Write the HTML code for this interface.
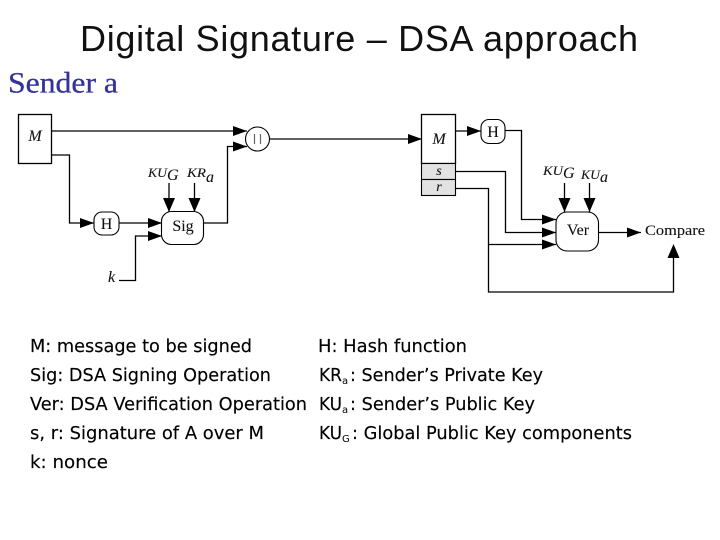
<!DOCTYPE html>
<html>
<head>
<meta charset="utf-8">
<style>
html,body{margin:0;padding:0;background:#fff;width:720px;height:540px;overflow:hidden}
svg{display:block}
.t{font-family:"DejaVu Sans","Liberation Sans",sans-serif;font-size:18px;fill:#000;stroke:#000;stroke-width:.15}
.s{font-family:"Liberation Serif",serif;fill:#111;stroke:#111;stroke-width:.1}
.i{font-family:"Liberation Serif",serif;font-style:italic;fill:#111;stroke:#111;stroke-width:.1}
path.l{fill:none;stroke:#000;stroke-width:1.3}
</style>
</head>
<body>
<svg width="720" height="540" viewBox="0 0 720 540" xmlns="http://www.w3.org/2000/svg">
<defs>
<path id="ar" d="M0 0L-14 -5V5Z" fill="#000"/>
<path id="ad" d="M0 0L-6 -14H6Z" fill="#000"/>
<path id="au" d="M0 0L-6 14H6Z" fill="#000"/>
</defs>

<text x="80" y="51" textLength="558" lengthAdjust="spacing" style="font-family:'Liberation Sans',sans-serif;font-size:36px;fill:#111">Digital Signature – DSA approach</text>
<text x="8" y="92.500" textLength="110" lengthAdjust="spacingAndGlyphs" style="font-family:'Liberation Serif',serif;font-size:30px;fill:#333399;stroke:#333399;stroke-width:.3">Sender a</text>

<!-- left -->
<rect x="18.500" y="114.500" width="33" height="49" fill="#fff" stroke="#000" stroke-width="1.300"/>
<text x="35" y="141" text-anchor="middle" class="i" style="font-size:16px">M</text>
<path class="l" d="M52 131H247"/><use href="#ar" x="247" y="131"/>
<circle cx="257.500" cy="139" r="12" fill="#fff" stroke="#000" stroke-width="1.100"/>
<path d="M254.500 134V144M260.500 134V144" stroke="#666" stroke-width="1.200" fill="none"/>
<path class="l" d="M52 155H69.500V223H94"/><use href="#ar" x="94" y="223"/>
<rect x="94" y="212" width="25" height="23" rx="8" fill="#fff" stroke="#000" stroke-width="1.100"/>
<text x="106.500" y="229" text-anchor="middle" class="s" style="font-size:16px">H</text>
<path class="l" d="M119 223H162"/><use href="#ar" x="162" y="223"/>
<path class="l" d="M119 280.500H135.500V236H162"/><use href="#ar" x="162" y="236"/>
<text x="108" y="282" class="i" style="font-size:16px">k</text>
<rect x="161.500" y="211.500" width="42" height="33" rx="10" fill="#fff" stroke="#000" stroke-width="1.100"/>
<text x="183" y="231" text-anchor="middle" class="s" style="font-size:16px">Sig</text>
<path class="l" d="M204 223H227.500V146.500H247"/><use href="#ar" x="247" y="146.500"/>
<path class="l" d="M169 183V212"/><use href="#ad" x="169" y="212"/>
<path class="l" d="M194.500 183V212"/><use href="#ad" x="194.500" y="212"/>
<text x="148" y="177" textLength="19" lengthAdjust="spacingAndGlyphs" class="i" style="font-size:13px">KU</text><text x="167" y="180" class="i" style="font-size:16px">G</text>
<text x="187" y="177" textLength="19" lengthAdjust="spacingAndGlyphs" class="i" style="font-size:13px">KR</text><text x="206" y="182" class="i" style="font-size:16px">a</text>

<!-- connector -->
<path class="l" d="M269.500 139H422"/><use href="#ar" x="422" y="139"/>

<!-- right -->
<rect x="421.500" y="114.500" width="34" height="49" fill="#fff" stroke="#000" stroke-width="1.300"/>
<rect x="421.500" y="163.500" width="34" height="16" fill="#e2e2e2" stroke="#000" stroke-width="1.100"/>
<rect x="421.500" y="179.500" width="34" height="16" fill="#e2e2e2" stroke="#000" stroke-width="1.100"/>
<text x="439" y="144" text-anchor="middle" class="i" style="font-size:16px">M</text>
<text x="439" y="175" text-anchor="middle" class="i" style="font-size:14px">s</text>
<text x="439" y="191" text-anchor="middle" class="i" style="font-size:14px">r</text>
<path class="l" d="M456 131H481"/><use href="#ar" x="481" y="131"/>
<rect x="481" y="119.500" width="24" height="24" rx="8" fill="#fff" stroke="#000" stroke-width="1.100"/>
<text x="493" y="137" text-anchor="middle" class="s" style="font-size:16px">H</text>
<path class="l" d="M505 130.500H521.500V219.500H556"/><use href="#ar" x="556" y="219.500"/>
<path class="l" d="M455 171.500H505.500V232.500H556"/><use href="#ar" x="556" y="232.500"/>
<path class="l" d="M456 188.500H488.500V292H673.500V246"/><use href="#au" x="673.500" y="244"/>
<path class="l" d="M488.500 244.500H556"/><use href="#ar" x="556" y="244.500"/>
<rect x="556" y="212" width="42.500" height="39" rx="11" fill="#fff" stroke="#000" stroke-width="1.100"/>
<text x="578" y="235" text-anchor="middle" class="s" style="font-size:16px">Ver</text>
<path class="l" d="M599 232.500H641"/><use href="#ar" x="641" y="232.500"/>
<text x="645" y="235" textLength="60" lengthAdjust="spacingAndGlyphs" class="s" style="font-size:15px">Compare</text>
<path class="l" d="M564.500 183V212"/><use href="#ad" x="564.500" y="212"/>
<path class="l" d="M589.500 183V212"/><use href="#ad" x="589.500" y="212"/>
<text x="543" y="175" textLength="20" lengthAdjust="spacingAndGlyphs" class="i" style="font-size:13px">KU</text><text x="563" y="178" class="i" style="font-size:16px">G</text>
<text x="581" y="179" textLength="19" lengthAdjust="spacingAndGlyphs" class="i" style="font-size:13px">KU</text><text x="600" y="182" class="i" style="font-size:16px">a</text>

<!-- legend -->
<text x="30" y="352" textLength="222" lengthAdjust="spacingAndGlyphs" class="t">M: message to be signed</text>
<text x="30" y="381" textLength="241" lengthAdjust="spacingAndGlyphs" class="t">Sig: DSA Signing Operation</text>
<text x="30" y="410" textLength="277" lengthAdjust="spacingAndGlyphs" class="t">Ver: DSA Verification Operation</text>
<text x="30" y="439" textLength="234" lengthAdjust="spacingAndGlyphs" class="t">s, r: Signature of A over M</text>
<text x="30" y="468" textLength="78" lengthAdjust="spacingAndGlyphs" class="t">k: nonce</text>

<text x="318" y="352" textLength="149" lengthAdjust="spacingAndGlyphs" class="t">H: Hash function</text>
<text x="319" y="381" textLength="23" lengthAdjust="spacingAndGlyphs" class="t">KR</text>
<text x="342" y="384" class="t" style="font-size:10px;stroke-width:0">a</text>
<text x="350" y="381" textLength="193" lengthAdjust="spacingAndGlyphs" class="t">: Sender’s Private Key</text>
<text x="319" y="410" textLength="23" lengthAdjust="spacingAndGlyphs" class="t">KU</text>
<text x="342" y="413" class="t" style="font-size:10px;stroke-width:0">a</text>
<text x="350" y="410" textLength="185" lengthAdjust="spacingAndGlyphs" class="t">: Sender’s Public Key</text>
<text x="319" y="439" textLength="23" lengthAdjust="spacingAndGlyphs" class="t">KU</text>
<text x="342" y="442" class="t" style="font-size:10px;stroke-width:0">G</text>
<text x="352" y="439" textLength="280" lengthAdjust="spacingAndGlyphs" class="t">: Global Public Key components</text>
</svg>
</body>
</html>
